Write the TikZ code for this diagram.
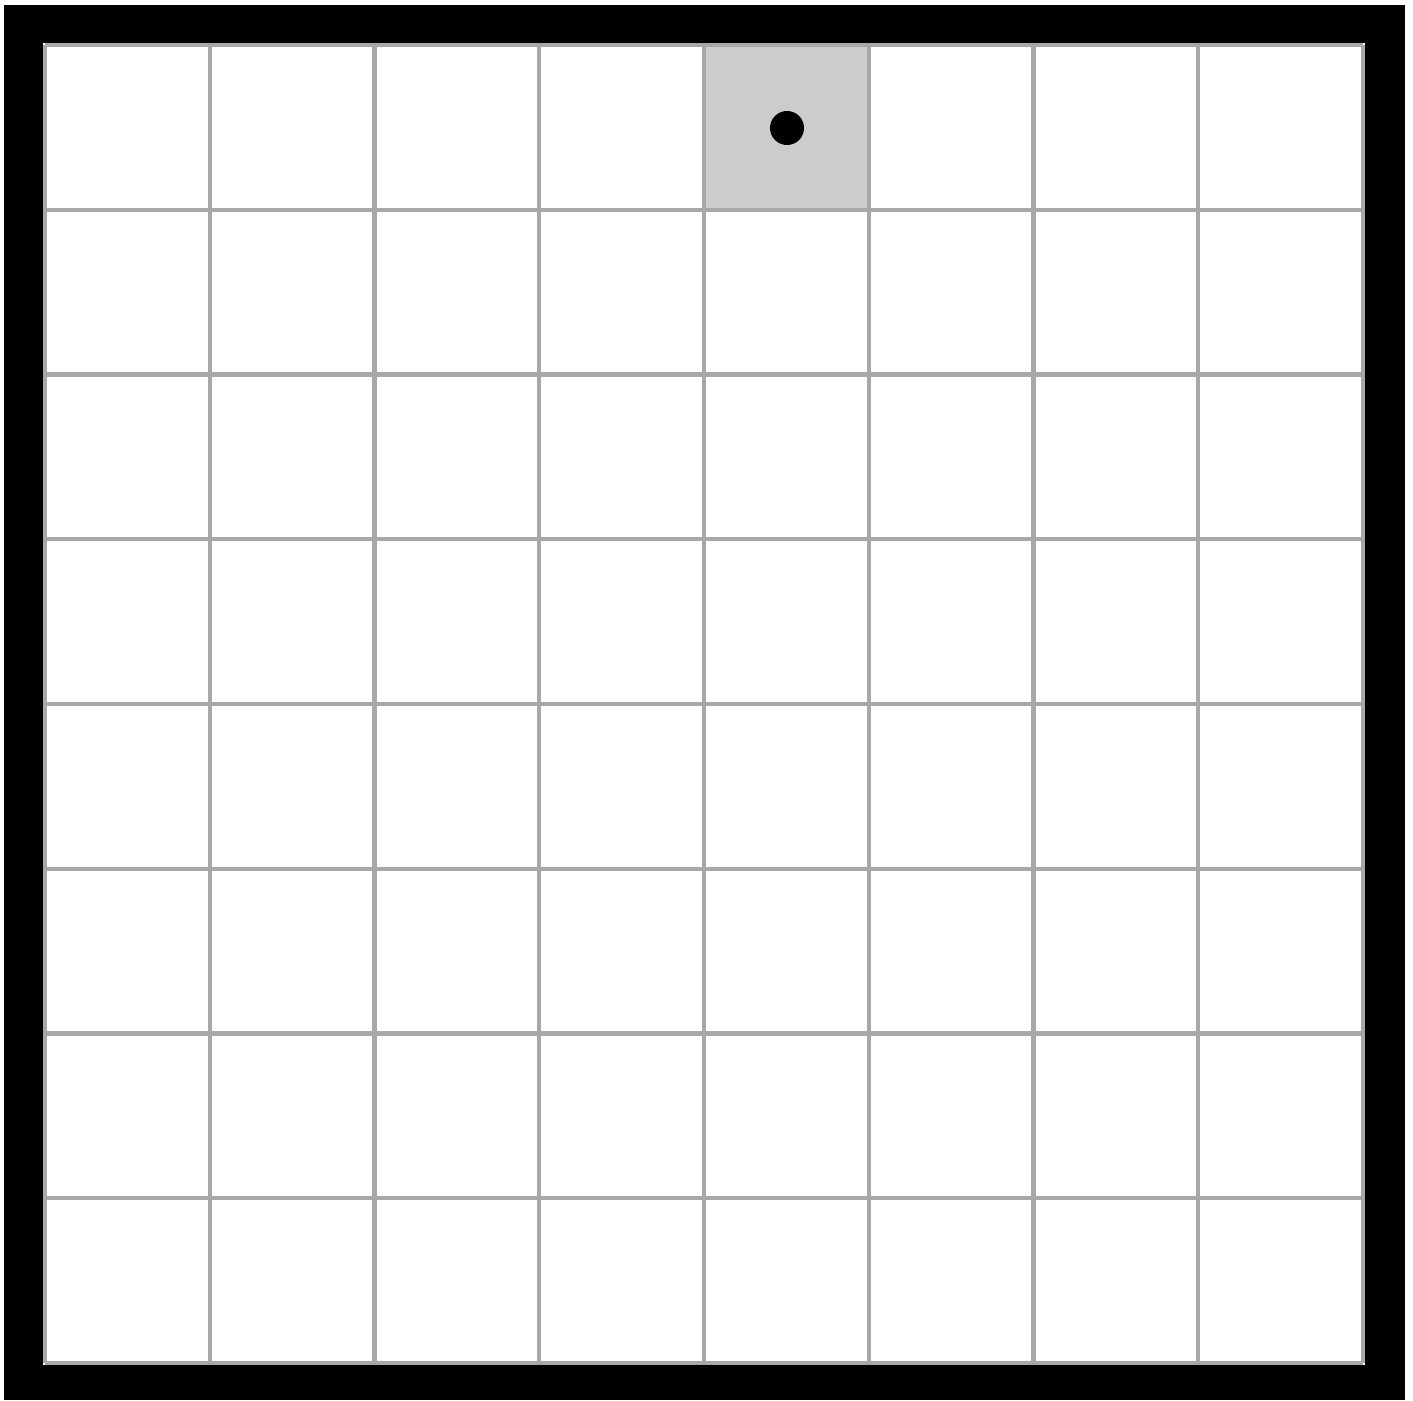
\documentclass[tikz,border=0pt]{standalone}
\definecolor{gridgray}{HTML}{A8A8A8}
\definecolor{cellgray}{HTML}{CCCCCC}
\tikzset{gridline/.style={draw=gridgray,line width=1.2pt}}
\begin{document}
\begin{tikzpicture}[x=0.01cm,y=-0.01cm]
\useasboundingbox (0,0) rectangle (1413,1400);
\fill[white] (0,0) rectangle (1413,1400);
\fill[black] (4,5) rectangle (1405,1400);
\fill[white] (43,43) rectangle (1365,1365);
\fill[cellgray] (705,45) rectangle (868,210);
\foreach \i in {0,...,8}{
  \draw[gridline] ({45+\i*164.75},45) -- ({45+\i*164.75},1363);
  \draw[gridline] (45,{45+\i*164.75}) -- (1363,{45+\i*164.75});
}
\node[circle,fill=black,inner sep=0pt,minimum size=0.34cm] (dot) at (787,128) {};
\end{tikzpicture}
\end{document}
